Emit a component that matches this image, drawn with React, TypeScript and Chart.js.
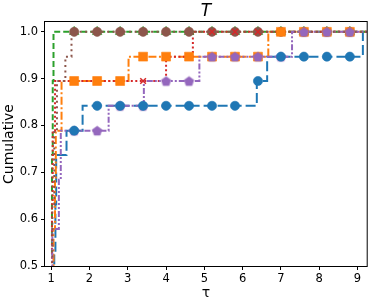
import React, { useEffect, useRef } from 'react';
import { Chart, registerables } from 'chart.js';
Chart.register(...registerables);

const TITLE = 'T';
const X_LABEL = 'τ';
const Y_LABEL = 'Cumulative';

const xTicks = [1, 2, 3, 4, 5, 6, 7, 8, 9];
const yTicks = [0.5, 0.6, 0.7, 0.8, 0.9, 1.0];
const markerTaus = [1.6, 2.2, 2.8, 3.4, 4.0, 4.6, 5.2, 5.8, 6.4, 7.0, 7.6, 8.2, 8.8];

// step breakpoints (tau) and cumulative fraction after each breakpoint
const blueTau = [1.0, 1.08, 1.11, 1.13, 1.4, 1.82, 6.37, 6.64, 9.14];
const blueRho = [0.45, 0.526, 0.632, 0.737, 0.789, 0.842, 0.895, 0.947, 1.0];

const orangeTau = [1.0, 1.06, 1.1, 1.12, 1.27, 3.02, 6.67];
const orangeRho = [0.45, 0.579, 0.684, 0.789, 0.895, 0.947, 1.0];

const greenTau = [1.0, 1.02, 1.04, 1.06];
const greenRho = [0.526, 0.737, 0.895, 1.0];

const redTau = [1.0, 1.02, 1.04, 1.1, 4.0, 4.7];
const redRho = [0.45, 0.632, 0.789, 0.895, 0.947, 1.0];

const purpleTau = [1.0, 1.03, 1.2, 1.25, 2.5, 3.42, 4.87, 7.29];
const purpleRho = [0.45, 0.579, 0.684, 0.789, 0.842, 0.895, 0.947, 1.0];

const brownTau = [1.0, 1.03, 1.08, 1.15, 1.37, 1.53];
const brownRho = [0.45, 0.632, 0.789, 0.895, 0.947, 1.0];

const X_MIN = 0.838;
const X_MAX = 9.24;
const Y_MIN = 0.5;
const Y_MAX = 1.021;

function stepAt(taus: number[], rhos: number[], t: number) {
  let v = rhos[0];
  for (let i = 0; i < taus.length; i++) if (taus[i] <= t) v = rhos[i];
  return v;
}

function makePentagon(color: string, r: number) {
  const c = document.createElement('canvas');
  const s = Math.ceil(r * 2 + 3);
  c.width = s; c.height = s;
  const g = c.getContext('2d')!;
  g.beginPath();
  for (let i = 0; i < 5; i++) {
    const a = -Math.PI / 2 + (i * 2 * Math.PI) / 5;
    const px = s / 2 + r * Math.cos(a);
    const py = s / 2 + r * Math.sin(a) + 0.5;
    if (i === 0) g.moveTo(px, py); else g.lineTo(px, py);
  }
  g.closePath();
  g.fillStyle = color;
  g.fill();
  g.strokeStyle = 'rgba(148,103,189,0.6)';
  g.lineWidth = 1;
  g.stroke();
  return c;
}

const textPlugin = {
  id: 'texts',
  afterDraw(chart: any) {
    const { ctx, chartArea: a } = chart;
    ctx.save();
    ctx.strokeStyle = '#000';
    ctx.lineWidth = 1;
    ctx.strokeRect(a.left - 0.5, a.top - 0.5, a.right - a.left + 1, a.bottom - a.top + 1);
    ctx.fillStyle = '#000';
    ctx.textAlign = 'center';
    ctx.textBaseline = 'alphabetic';
    ctx.font = 'italic 17px "DejaVu Sans"';
    ctx.fillText(TITLE, (a.left + a.right) / 2, 16);
    ctx.font = '14px "DejaVu Sans"';
    ctx.fillText(X_LABEL, (a.left + a.right) / 2, 297);
    ctx.translate(13, (a.top + a.bottom) / 2);
    ctx.rotate(-Math.PI / 2);
    ctx.font = '14px "DejaVu Sans"';
    ctx.fillText(Y_LABEL, 0, 0);
    ctx.restore();
  },
};

export default function App() {
  const ref = useRef<HTMLCanvasElement>(null);
  useEffect(() => {
    if (!ref.current) return;
    Chart.defaults.font.family = '"DejaVu Sans"';
    Chart.defaults.color = '#000';
    const series = [
      { taus: blueTau, rhos: blueRho, color: '#1f77b4', dash: [10, 4], style: 'circle', r: 4.6, lineOrder: 25, markOrder: 0 },
      { taus: orangeTau, rhos: orangeRho, color: '#ff7f0e', dash: [8, 2.5, 2, 2.5], style: 'rect', r: 6.3, lineOrder: 24, markOrder: 2 },
      { taus: greenTau, rhos: greenRho, color: '#2ca02c', dash: [6, 3], style: 'triangle', r: 5.5, lineOrder: 23, markOrder: 5 },
      { taus: redTau, rhos: redRho, color: '#d62728', dash: [2, 2.5], style: 'crossRot', r: 4, lineOrder: 22, markOrder: 3 },
      { taus: purpleTau, rhos: purpleRho, color: '#9467bd', dash: [6, 2, 2, 2, 2, 2], style: 'pent', r: 5, lineOrder: 21, markOrder: 1 },
      { taus: brownTau, rhos: brownRho, color: '#8c564b', dash: [2, 3.5], style: 'circle', r: 4.6, lineOrder: 20, markOrder: 4 },
    ];
    const datasets: any[] = [];
    for (const s of series) {
      const pts = s.taus.map((t, i) => ({ x: t, y: s.rhos[i] }));
      pts.push({ x: X_MAX + 0.5, y: s.rhos[s.rhos.length - 1] });
      datasets.push({
        type: 'line',
        data: pts,
        borderColor: s.color,
        borderWidth: 2,
        borderDash: s.dash,
        stepped: 'before',
        pointRadius: 0,
        fill: false,
        order: s.lineOrder,
        clip: 0,
      });
      const marks = markerTaus.map((t) => ({ x: t, y: stepAt(s.taus, s.rhos, t) }));
      const ps = s.style === 'pent' ? makePentagon(s.color, s.r) : s.style;
      datasets.push({
        type: 'line',
        data: marks,
        showLine: false,
        pointStyle: ps,
        pointRadius: s.r,
        pointBackgroundColor: s.color,
        pointBorderColor: s.style === 'crossRot' ? s.color : s.color + '99',
        pointBorderWidth: s.style === 'crossRot' ? 1.5 : 1,
        order: s.markOrder,
        clip: 6,
      });
    }
    const chart = new Chart(ref.current, {
      type: 'line',
      data: { datasets },
      options: {
        animation: false,
        responsive: false,
        events: [],
        layout: { padding: { top: 22, right: 2, left: 0, bottom: 0 } },
        plugins: { legend: { display: false }, title: { display: false }, tooltip: { enabled: false } },
        scales: {
          x: {
            type: 'linear',
            min: X_MIN,
            max: X_MAX,
            afterBuildTicks: (sc: any) => { sc.ticks = xTicks.map((v) => ({ value: v })); },
            afterFit: (sc: any) => { sc.height = 34; },
            ticks: { font: { size: 11.5 }, padding: 2, maxRotation: 0, autoSkip: false, callback: (v: any) => String(v) },
            grid: { drawOnChartArea: false, drawTicks: true, tickLength: 4, tickColor: '#000' },
            border: { display: false },
          },
          y: {
            type: 'linear',
            min: Y_MIN,
            max: Y_MAX,
            afterBuildTicks: (sc: any) => { sc.ticks = yTicks.map((v) => ({ value: v })); },
            afterFit: (sc: any) => { sc.width = 45; },
            ticks: { font: { size: 11.5 }, padding: 3, autoSkip: false, callback: (v: any) => Number(v).toFixed(1) },
            grid: { drawOnChartArea: false, drawTicks: true, tickLength: 4, tickColor: '#000' },
            border: { display: false },
          },
        },
      },
      plugins: [textPlugin],
    });
    return () => chart.destroy();
  }, []);
  return (
    <div style={{ position: 'absolute', left: 0, top: 0, width: 374, height: 300 }}>
      <canvas ref={ref} width={374} height={300} />
    </div>
  );
}
